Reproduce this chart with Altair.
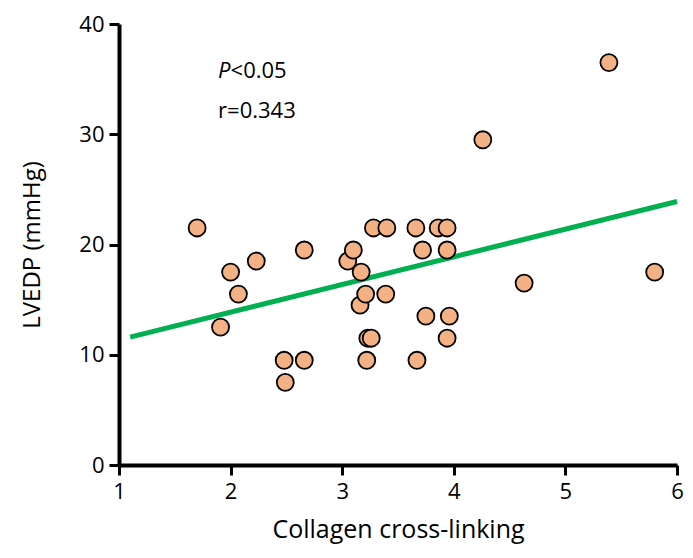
import altair as alt
import pandas as pd

# Scatter data (Collagen cross-linking vs LVEDP)
cross_linking = [1.70, 1.91, 2.00, 2.07, 2.23, 2.48, 2.49, 2.66, 2.66, 3.05, 3.10,
                 3.17, 3.16, 3.21, 3.23, 3.26, 3.22, 3.28, 3.40, 3.39, 3.66, 3.72,
                 3.75, 3.67, 3.86, 3.94, 3.94, 3.96, 3.94, 4.26, 4.63, 5.39, 5.80]
lvedp = [21.5, 12.5, 17.5, 15.5, 18.5, 9.5, 7.5, 19.5, 9.5, 18.5, 19.5,
         17.5, 14.5, 15.5, 11.5, 11.5, 9.5, 21.5, 21.5, 15.5, 21.5, 19.5,
         13.5, 9.5, 21.5, 21.5, 19.5, 13.5, 11.5, 29.5, 16.5, 36.5, 17.5]

# Regression line endpoints
line_x = [1.1, 6.0]
line_y = [11.6, 23.9]

x_ticks = [1, 2, 3, 4, 5, 6]
y_ticks = [0, 10, 20, 30, 40]

pts = pd.DataFrame({"x": cross_linking, "y": lvedp})
ln = pd.DataFrame({"x": line_x, "y": line_y})
ann_p = pd.DataFrame({"x": [1.888], "y": [35.7], "t": ["P"]})
ann_rest = pd.DataFrame({"x": [2.0], "y": [35.7], "t": ["<0.05"]})
ann_r = pd.DataFrame({"x": [1.888], "y": [32.1], "t": ["r=0.343"]})

FONT = "Open Sans"

xs = alt.Scale(domain=[1, 6], nice=False, zero=False)
ys = alt.Scale(domain=[0, 40], nice=False)

common = dict(grid=False, domainColor="black", domainWidth=4, tickColor="black",
              tickWidth=3, tickSize=10, labelFontSize=22, labelColor="black",
              labelFont=FONT, titleFont=FONT,
              titleFontWeight="normal", titleColor="black", labelFlush=False,
              format="d")

xaxis = alt.Axis(values=x_ticks, title="Collagen cross-linking",
                 labelPadding=6, titlePadding=15, titleFontSize=25, **common)
yaxis = alt.Axis(values=y_ticks, title="LVEDP (mmHg)",
                 labelPadding=5, titlePadding=34, titleFontSize=24, **common)

points = alt.Chart(pts).mark_circle(size=290, opacity=1, color="#F4B183",
                                    stroke="black", strokeWidth=1.8).encode(
    x=alt.X("x:Q", scale=xs, axis=xaxis),
    y=alt.Y("y:Q", scale=ys, axis=yaxis),
)

line = alt.Chart(ln).mark_line(color="#00B050", strokeWidth=5).encode(
    x=alt.X("x:Q", scale=xs), y=alt.Y("y:Q", scale=ys))

t1 = alt.Chart(ann_p).mark_text(align="left", baseline="middle", fontSize=22,
                                font=FONT, fontStyle="italic", color="black").encode(
    x=alt.X("x:Q", scale=xs), y=alt.Y("y:Q", scale=ys), text="t:N")
t2 = alt.Chart(ann_rest).mark_text(align="left", baseline="middle", fontSize=22,
                                   font=FONT, color="black").encode(
    x=alt.X("x:Q", scale=xs), y=alt.Y("y:Q", scale=ys), text="t:N")
t3 = alt.Chart(ann_r).mark_text(align="left", baseline="middle", fontSize=22,
                                font=FONT, color="black").encode(
    x=alt.X("x:Q", scale=xs), y=alt.Y("y:Q", scale=ys), text="t:N")

chart = alt.layer(line, points, t1, t2, t3).properties(
    width=558, height=441,
    autosize=alt.AutoSizeParams(type="none"),
    padding={"left": 111, "top": 16, "right": 8, "bottom": 85},
    background="white",
).configure_view(stroke=None)

chart.save("out.html", embed_options={"renderer": "svg", "actions": False})
